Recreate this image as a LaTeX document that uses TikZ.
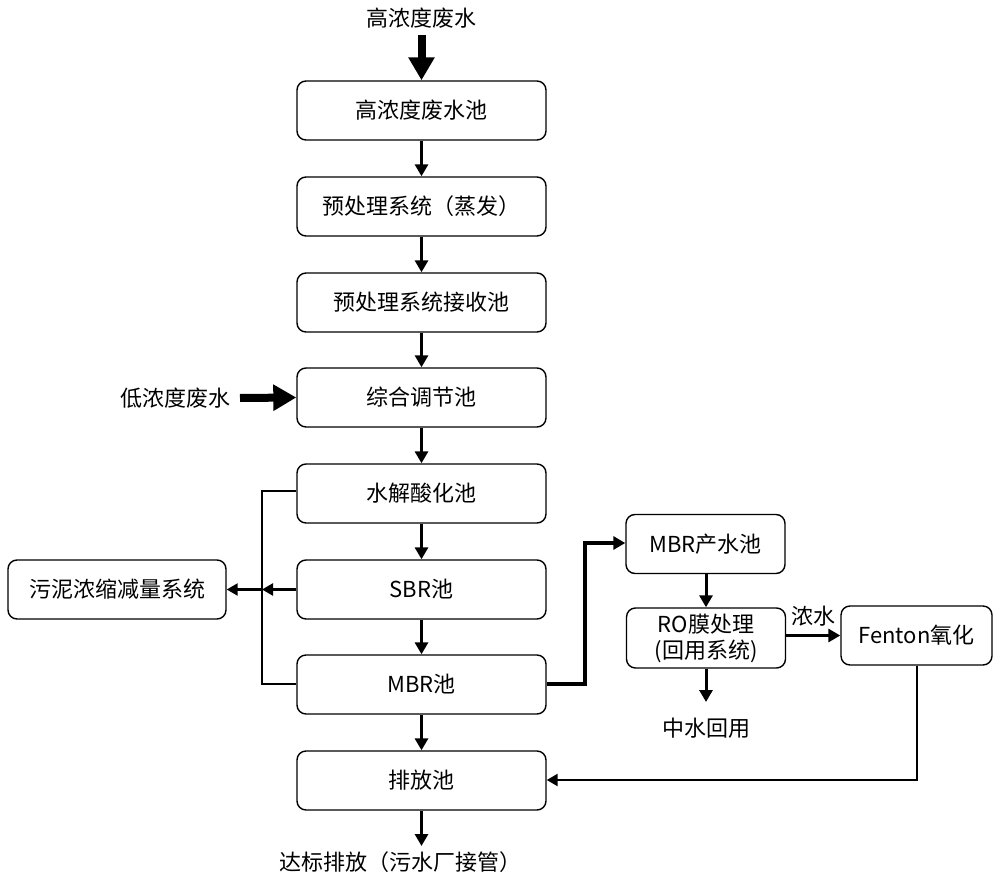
\documentclass[tikz,border=0pt]{standalone}
\usepackage{fontspec}
\setmainfont{Noto Sans CJK SC}
\usetikzlibrary{arrows.meta}
\begin{document}
\begin{tikzpicture}[x=1pt,y=-1pt,
  box/.style={draw,rounded corners=9pt,line width=1.4pt,minimum width=249pt,minimum height=59pt,inner sep=0pt,font=\fontsize{22}{26}\selectfont},
  sbox/.style={draw,rounded corners=9pt,line width=1.4pt,minimum width=159pt,minimum height=59pt,inner sep=0pt,font=\fontsize{22}{26}\selectfont,align=center},
  lbl/.style={inner sep=0pt,font=\fontsize{22}{26}\selectfont},
  arr/.style={line width=3pt,-{Triangle[length=12pt,width=13pt]}},
  thin/.style={line width=2.2pt},
  tarr/.style={line width=2.4pt,-{Triangle[length=11pt,width=12pt]}},
  big/.style={line width=8pt,-{Triangle[length=23pt,width=25pt]}}]
\useasboundingbox (0,0) rectangle (1000,885);
% main column
\node[lbl] (hin) at (421.5,18) {高浓度废水};
\coordinate (hinb) at (421.5,35);
\node[box] (b1) at (421.5,110.5) {高浓度废水池};
\node[box] (b2) at (421.5,206.5) {预处理系统（蒸发）};
\node[box] (b3) at (421.5,302.5) {预处理系统接收池};
\node[box] (b4) at (421.5,397.5) {综合调节池};
\node[box] (b5) at (421.5,493.5) {水解酸化池};
\node[box] (b6) at (421.5,589.5) {SBR池};
\node[box] (b7) at (421.5,684.5) {MBR池};
\node[box] (b8) at (421.5,780.5) {排放池};
\node[lbl] (out) at (400,862) {达标排放（污水厂接管）};
\coordinate (outt) at (421.5,846);
% left
\node[lbl] (lin) at (175,398) {低浓度废水};
\coordinate (linr) at (240,398);
\node[box,minimum width=218pt] (sl) at (117,589.5) {污泥浓缩减量系统};
\coordinate (j) at (262,589.5);
\coordinate (jt) at (262,491);
\coordinate (jb) at (262,684);
% right
\node[sbox] (m1) at (705.5,544) {MBR产水池};
\node[sbox,minimum height=60pt] (ro) at (706,638) {RO膜处理\\[0pt](回用系统)};
\node[sbox,minimum width=151pt] (fe) at (916.5,635.5) {Fenton氧化};
\node[lbl] (nong) at (813,616) {浓水};
\node[lbl] (zs) at (706,728) {中水回用};
\coordinate (zst) at (706,702);
\coordinate (k1) at (585,684);
\coordinate (k2) at (585,543);
\coordinate (fb) at (917,780);
% arrows
\draw[big] (hinb) -- (b1.north);
\draw[arr] (b1) -- (b2);
\draw[arr] (b2) -- (b3);
\draw[arr] (b3) -- (b4);
\draw[big] (linr) -- (b4.west);
\draw[arr] (b4) -- (b5);
\draw[arr] (b5) -- (b6);
\draw[arr] (b6) -- (b7);
\draw[arr] (b7) -- (b8);
\draw[arr] (b8) -- (outt);
\draw[thin] (b5.west |- jt) -- (jt) -- (jb) -- (b7.west |- jb);
\draw[tarr] (b6.west) -- (j);
\draw[tarr] (j) -- (sl.east);
\draw[line width=3.6pt,-{Triangle[length=12pt,width=13pt]}] (b7.east |- k1) -- (k1) -- (k2) -- (m1.west |- k2);
\draw[arr] (m1.south -| ro) -- (ro.north);
\draw[arr] (ro.south) -- (zst);
\draw[arr] (ro.east |- fe) -- (fe.west);
\draw[tarr] (fe.south -| fb) -- (fb) -- (b8.east |- fb);
\end{tikzpicture}
\end{document}
